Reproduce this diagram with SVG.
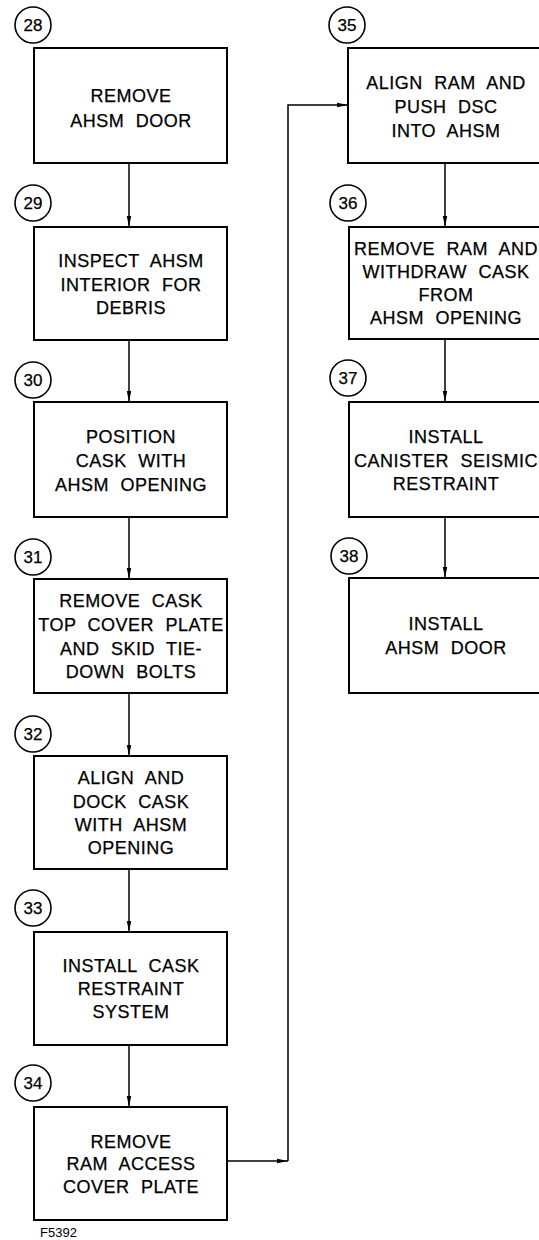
<svg xmlns="http://www.w3.org/2000/svg" width="539" height="1240" viewBox="0 0 539 1240">
<style>
.box{fill:#fff;stroke:#000;stroke-width:2}
.num{fill:none;stroke:#000;stroke-width:1.6}
.t{font-family:"Liberation Sans",Arial,sans-serif;font-size:18px;letter-spacing:0.5px;word-spacing:6px;text-anchor:middle;fill:#000;stroke:#000;stroke-width:0.25}
.n{font-family:"Liberation Sans",Arial,sans-serif;font-size:17px;text-anchor:middle;fill:#000;stroke:#000;stroke-width:0.25}
.c{fill:none;stroke:#000;stroke-width:1.5}
</style>
<defs>
<marker id="ah" markerUnits="userSpaceOnUse" markerWidth="12" markerHeight="6" refX="11" refY="3" orient="auto">
<path d="M0,0.8 L11,3 L0,5.2 z" fill="#000"/>
</marker>
</defs>
<rect width="539" height="1240" fill="#fff"/>
<g id="connectors">
<line class="c" x1="129" y1="163" x2="129" y2="227" marker-end="url(#ah)"/>
<line class="c" x1="129" y1="340" x2="129" y2="402" marker-end="url(#ah)"/>
<line class="c" x1="129" y1="517" x2="129" y2="579" marker-end="url(#ah)"/>
<line class="c" x1="129" y1="693" x2="129" y2="756" marker-end="url(#ah)"/>
<line class="c" x1="129" y1="869" x2="129" y2="932" marker-end="url(#ah)"/>
<line class="c" x1="129" y1="1045" x2="129" y2="1107" marker-end="url(#ah)"/>
<line class="c" x1="227" y1="1161" x2="288" y2="1161" marker-end="url(#ah)"/>
<path class="c" d="M288,1161 V105 H348" marker-end="url(#ah)"/>
<line class="c" x1="445" y1="163" x2="445" y2="227" marker-end="url(#ah)"/>
<line class="c" x1="445" y1="339" x2="445" y2="402" marker-end="url(#ah)"/>
<line class="c" x1="445" y1="517" x2="445" y2="578" marker-end="url(#ah)"/>
</g>
<g id="n28">
<circle class="num" cx="33" cy="25" r="18"/><text class="n" x="33" y="31">28</text>
<rect class="box" x="34" y="48" width="193" height="115"/>
<text class="t" x="131" y="102">REMOVE</text>
<text class="t" x="131" y="127">AHSM DOOR</text>
</g>
<g id="n29">
<circle class="num" cx="33" cy="203" r="18"/><text class="n" x="33" y="209">29</text>
<rect class="box" x="34" y="227" width="193" height="113"/>
<text class="t" x="131" y="267">INSPECT AHSM</text>
<text class="t" x="131" y="291">INTERIOR FOR</text>
<text class="t" x="131" y="314">DEBRIS</text>
</g>
<g id="n30">
<circle class="num" cx="33" cy="380" r="18"/><text class="n" x="33" y="386">30</text>
<rect class="box" x="34" y="402" width="193" height="115"/>
<text class="t" x="131" y="443">POSITION</text>
<text class="t" x="131" y="467">CASK WITH</text>
<text class="t" x="131" y="491">AHSM OPENING</text>
</g>
<g id="n31">
<circle class="num" cx="33" cy="557" r="18"/><text class="n" x="33" y="563">31</text>
<rect class="box" x="34" y="579" width="193" height="114"/>
<text class="t" x="131" y="607">REMOVE CASK</text>
<text class="t" x="131" y="631">TOP COVER PLATE</text>
<text class="t" x="131" y="655">AND SKID TIE-</text>
<text class="t" x="131" y="678">DOWN BOLTS</text>
</g>
<g id="n32">
<circle class="num" cx="33" cy="734" r="18"/><text class="n" x="33" y="740">32</text>
<rect class="box" x="34" y="756" width="193" height="113"/>
<text class="t" x="131" y="784">ALIGN AND</text>
<text class="t" x="131" y="808">DOCK CASK</text>
<text class="t" x="131" y="831">WITH AHSM</text>
<text class="t" x="131" y="854">OPENING</text>
</g>
<g id="n33">
<circle class="num" cx="33" cy="908" r="18"/><text class="n" x="33" y="914">33</text>
<rect class="box" x="34" y="932" width="193" height="113"/>
<text class="t" x="131" y="972">INSTALL CASK</text>
<text class="t" x="131" y="995">RESTRAINT</text>
<text class="t" x="131" y="1018">SYSTEM</text>
</g>
<g id="n34">
<circle class="num" cx="33" cy="1083" r="18"/><text class="n" x="33" y="1089">34</text>
<rect class="box" x="34" y="1107" width="193" height="113"/>
<text class="t" x="131" y="1148">REMOVE</text>
<text class="t" x="131" y="1170">RAM ACCESS</text>
<text class="t" x="131" y="1193">COVER PLATE</text>
</g>
<g id="n35">
<circle class="num" cx="347" cy="25" r="18"/><text class="n" x="347" y="31">35</text>
<rect class="box" x="348" y="48" width="194" height="115"/>
<text class="t" x="446" y="89">ALIGN RAM AND</text>
<text class="t" x="446" y="113">PUSH DSC</text>
<text class="t" x="446" y="137">INTO AHSM</text>
</g>
<g id="n36">
<circle class="num" cx="348" cy="203" r="18"/><text class="n" x="348" y="209">36</text>
<rect class="box" x="349" y="227" width="193" height="112"/>
<text class="t" x="446" y="255">REMOVE RAM AND</text>
<text class="t" x="446" y="278">WITHDRAW CASK</text>
<text class="t" x="446" y="301">FROM</text>
<text class="t" x="446" y="324">AHSM OPENING</text>
</g>
<g id="n37">
<circle class="num" cx="348" cy="378" r="18"/><text class="n" x="348" y="384">37</text>
<rect class="box" x="349" y="402" width="193" height="115"/>
<text class="t" x="446" y="443">INSTALL</text>
<text class="t" x="446" y="467">CANISTER SEISMIC</text>
<text class="t" x="446" y="490">RESTRAINT</text>
</g>
<g id="n38">
<circle class="num" cx="349" cy="556" r="18"/><text class="n" x="349" y="562">38</text>
<rect class="box" x="349" y="578" width="193" height="115"/>
<text class="t" x="446" y="630">INSTALL</text>
<text class="t" x="446" y="654">AHSM DOOR</text>
</g>
<text x="40" y="1237" style="font-family:'Liberation Sans',Arial,sans-serif;font-size:13px;fill:#000">F5392</text>
</svg>
